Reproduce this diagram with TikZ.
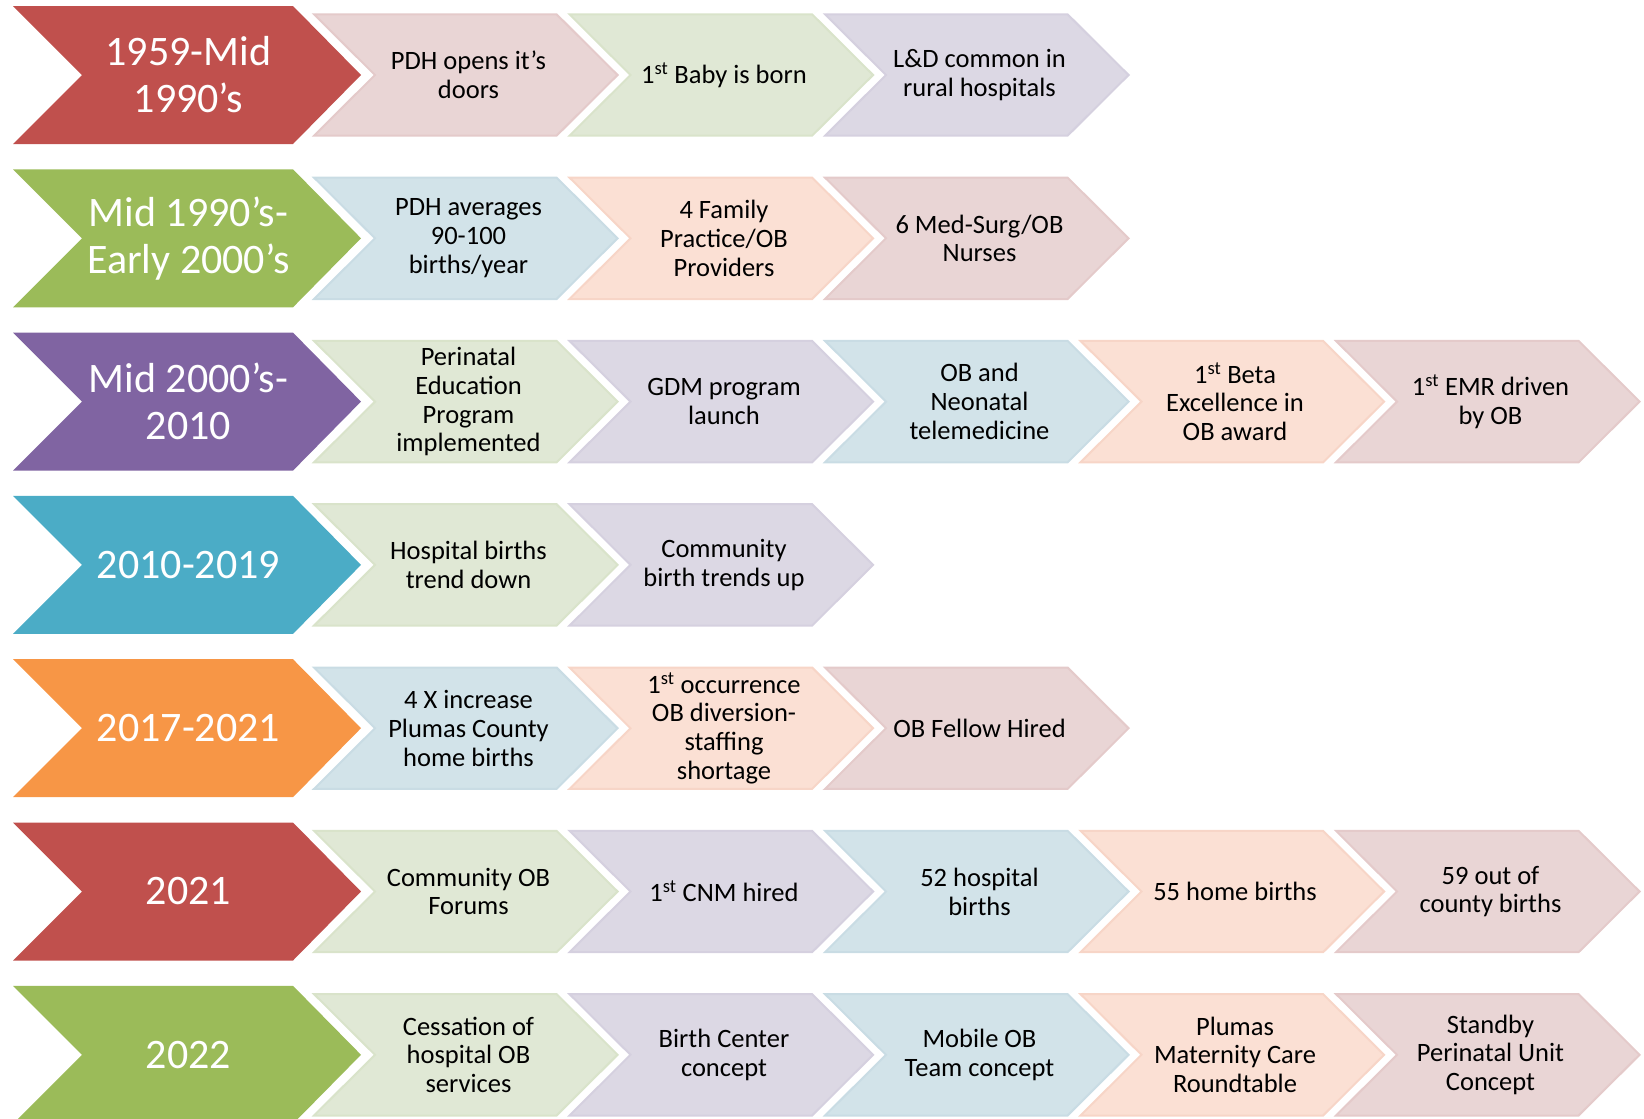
\documentclass[tikz,border=0pt]{standalone}
\usepackage{fontspec}
\setmainfont{Carlito}
\usepackage{xcolor}
\usepackage{tikz}

\definecolor{accRed}{HTML}{C0504D}
\definecolor{accGreen}{HTML}{9BBB59}
\definecolor{accPurple}{HTML}{8064A2}
\definecolor{accBlue}{HTML}{4BACC6}
\definecolor{accOrange}{HTML}{F79646}
\definecolor{tintRed}{RGB}{233,213,213}
\definecolor{tintGreen}{RGB}{224,232,213}
\definecolor{tintPurple}{RGB}{220,216,228}
\definecolor{tintBlue}{RGB}{210,227,233}
\definecolor{tintOrange}{RGB}{251,224,212}
\definecolor{lineRed}{RGB}{228,202,202}
\definecolor{lineGreen}{RGB}{217,227,202}
\definecolor{linePurple}{RGB}{213,208,223}
\definecolor{lineBlue}{RGB}{201,220,228}
\definecolor{lineOrange}{RGB}{247,213,199}

\tikzset{
  era/.style={font=\fontsize{42}{47}\selectfont, text=white, align=center},
  event/.style={font=\fontsize{26.5}{28.8}\selectfont, text=black, align=center},
  evchev/.style={line width=2pt, line join=miter}
}

\begin{document}
\begin{tikzpicture}[x=1pt,y=-1pt]
\useasboundingbox (0,0) rectangle (1644,1119);
\clip (0,0) rectangle (1644,1119);
% period chevrons
\foreach \r/\c/\t in {0/accRed/{1959-Mid\\1990's},
  1/accGreen/{Mid 1990's-\\Early 2000's},
  2/accPurple/{Mid 2000's-\\2010},
  3/accBlue/{2010-2019},
  4/accOrange/{2017-2021},
  5/accRed/{2021},
  6/accGreen/{2022}} {
\pgfmathsetmacro\cy{75+163.3*\r}
\fill[\c] (13,\cy-69) -- (293,\cy-69) -- (361,\cy) -- (293,\cy+69)
  -- (13,\cy+69) -- (82,\cy) -- cycle;
\node[era] (era\r) at (188.5,\cy) {\t};
}
% event chevrons
\foreach \r/\k/\c/\t in {0/0/Red/{PDH opens it's\\doors},
  0/1/Green/{1\textsuperscript{st} Baby is born},
  0/2/Purple/{L\&D common in\\rural hospitals},
  1/0/Blue/{PDH averages\\90-100\\births/year},
  1/1/Orange/{4 Family\\Practice/OB\\Providers},
  1/2/Red/{6 Med-Surg/OB\\Nurses},
  2/0/Green/{Perinatal\\Education\\Program\\implemented},
  2/1/Purple/{GDM program\\launch},
  2/2/Blue/{OB and\\Neonatal\\telemedicine},
  2/3/Orange/{1\textsuperscript{st} Beta\\Excellence in\\OB award},
  2/4/Red/{1\textsuperscript{st} EMR driven\\by OB},
  3/0/Green/{Hospital births\\trend down},
  3/1/Purple/{Community\\birth trends up},
  4/0/Blue/{4 X increase\\Plumas County\\home births},
  4/1/Orange/{1\textsuperscript{st} occurrence\\OB diversion-\\staffing\\shortage},
  4/2/Red/{OB Fellow Hired},
  5/0/Green/{Community OB\\Forums},
  5/1/Purple/{1\textsuperscript{st} CNM hired},
  5/2/Blue/{52 hospital\\births},
  5/3/Orange/{55 home births},
  5/4/Red/{59 out of\\county births},
  6/0/Green/{Cessation of\\hospital OB\\services},
  6/1/Purple/{Birth Center\\concept},
  6/2/Blue/{Mobile OB\\Team concept},
  6/3/Orange/{Plumas\\Maternity Care\\Roundtable},
  6/4/Red/{Standby\\Perinatal Unit\\Concept}} {
\pgfmathsetmacro\cy{75+163.3*\r}
\pgfmathsetmacro\lx{313+255.5*\k}
\filldraw[evchev, fill=tint\c, draw=line\c] (\lx+1,\cy-60.7) -- (\lx+243.6,\cy-60.7)
  -- (\lx+304.6,\cy) -- (\lx+243.6,\cy+60.7) -- (\lx+1,\cy+60.7)
  -- (\lx+62,\cy) -- cycle;
\node[event] (ev\r\k) at (\lx+155.5,\cy) {\t};
}
\end{tikzpicture}
\end{document}
